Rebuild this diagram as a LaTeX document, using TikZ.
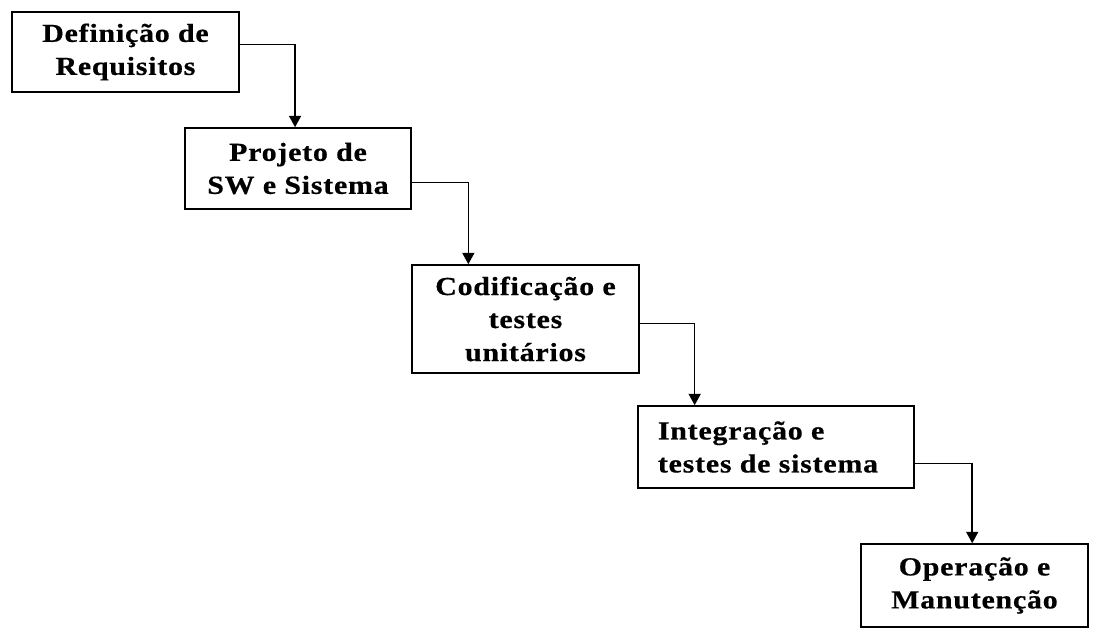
\documentclass[tikz,border=0pt]{standalone}
\usepackage{fontspec}
\setmainfont{Liberation Serif}[LetterSpace=3,FakeStretch=1.15,BoldFeatures={FakeBold=0.6}]
\usetikzlibrary{arrows.meta,calc}
\tikzset{
  stage/.style={draw=black, line width=1.2pt, fill=white, inner sep=0pt,
    font=\fontsize{19.5pt}{24.75pt}\selectfont\bfseries, align=center},
  flow/.style={draw=black, line width=1.1pt,
    -{Triangle[width=9pt,length=8.5pt]}}
}
\begin{document}
\begin{tikzpicture}[x=0.75pt,y=-0.75pt]
\useasboundingbox (0,0) rectangle (1100,636);
\node[stage, minimum width=170.25pt, minimum height=60pt] (b1) at (125.5,52) {Definição de\\Requisitos};
\node[stage, minimum width=169.5pt, minimum height=60.75pt] (b2) at (298,168.5) {Projeto de\\SW e Sistema};
\node[stage, minimum width=170.25pt, minimum height=81pt] (b3) at (525.5,319) {Codificação e\\testes\\unitários};
\node[stage, minimum width=207pt, minimum height=61.5pt, align=left] (b4) at (776,447) {\hspace*{-12pt}Integração e\\\hspace*{-12pt}testes de sistema};
\node[stage, minimum width=170.25pt, minimum height=62.25pt] (b5) at (974.5,585.5) {Operação e\\Manutenção};
\draw[flow] ($(b1.north east)!0.41!(b1.south east)$) -| ($(b2.north west)!0.487!(b2.north east)$);
\draw[flow] ($(b2.north east)!0.67!(b2.south east)$) -| ($(b3.north west)!0.25!(b3.north east)$);
\draw[flow] ($(b3.north east)!0.54!(b3.south east)$) -| ($(b4.north west)!0.207!(b4.north east)$);
\draw[flow] ($(b4.north east)!0.70!(b4.south east)$) -| ($(b5.north west)!0.49!(b5.north east)$);
\end{tikzpicture}
\end{document}
